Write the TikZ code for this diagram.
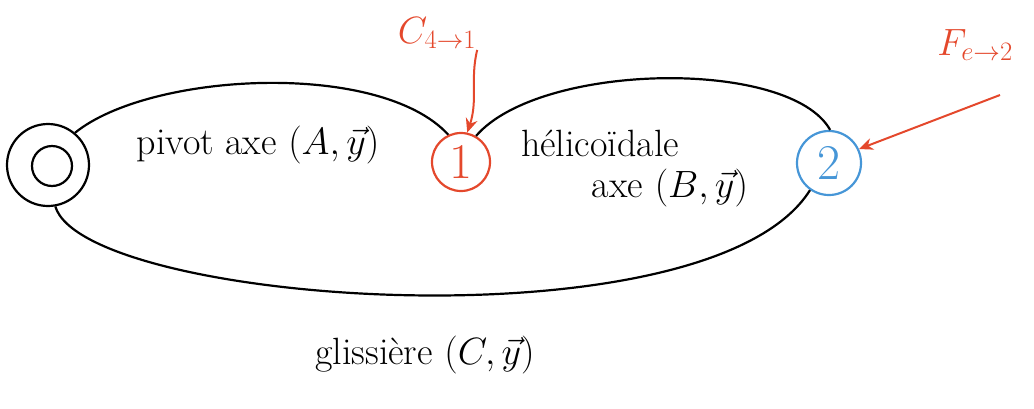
\RequirePackage{fix-cm}
\documentclass[tikz,border=0pt]{standalone}
\usetikzlibrary{arrows.meta}
\definecolor{redink}{RGB}{228,72,44}
\definecolor{blueink}{RGB}{70,150,215}
\begin{document}
\begin{tikzpicture}[x=1pt,y=-1pt,line width=2.2pt,
  lbl/.style={font=\fontsize{38}{42}\selectfont,inner sep=0pt},
  part/.style={circle,draw,line width=2.2pt,inner sep=0pt,font=\fontsize{50}{52}\selectfont},
  edge/.style={draw=black,line width=2.2pt},
  force/.style={draw=redink,line width=2pt,-{Stealth[length=14pt,width=12pt]}}]
\useasboundingbox (0,0) rectangle (1034,408);
% parts
\node[part,minimum size=82pt] (n0) at (48,165) {};
\node[circle,draw,line width=2.2pt,minimum size=40pt,inner sep=0pt] (n0i) at (52,166) {};
\node[part,draw=redink,text=redink,minimum size=58pt] (n1) at (461,162) {1};
\node[part,draw=blueink,text=blueink,minimum size=64pt] (n2) at (829,163) {2};
% liaisons
\draw[edge] (n0.50) .. controls (150,72) and (380,60) .. (n1.115);
\node[lbl] (l01) at (258,145) {pivot axe $(A,\vec{y})$};
\draw[edge] (n1.60) .. controls (540,62) and (790,58) .. (n2.88);
\node[lbl] (l12a) at (600,143) {hélicoïdale};
\node[lbl] (l12b) at (670,188) {axe $(B,\vec{y})$};
\draw[edge] (n0.280) .. controls (85,305) and (710,350) .. (n2.235);
\node[lbl] (l02) at (425,355) {glissière $(C,\vec{y})$};
% external actions
\node[lbl,text=redink] (c41) at (437,33) {$C_{4\to1}$};
\node[lbl,text=redink] (fe2) at (975,45) {$F_{e\to2}$};
\draw[force] (c41.south east) .. controls (470,80) and (478,100) .. (n1.78);
\coordinate (fstart) at (1000,95);
\draw[force] (fstart) -- (n2.25);
\end{tikzpicture}
\end{document}
